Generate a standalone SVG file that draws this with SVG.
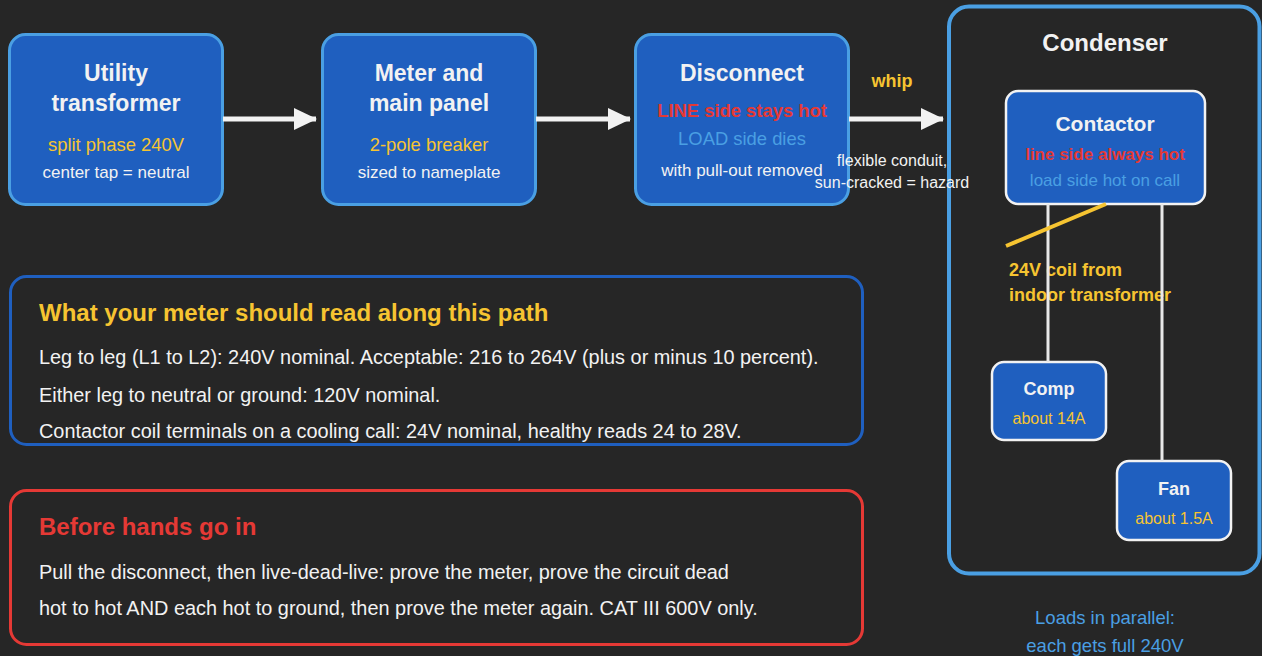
<svg xmlns="http://www.w3.org/2000/svg" width="1262" height="656" viewBox="0 0 1262 656">
<style>
text{font-family:"Liberation Sans",Arial,sans-serif;}
.node{fill:#1f5fbf;stroke:#4a9fe3;stroke-width:3;}
.inner{fill:#1f5fbf;stroke:#f2f2f2;stroke-width:2.5;}
.t{fill:#f2f2f2;font-weight:bold;font-size:23px;text-anchor:middle;}
.ts{fill:#f2f2f2;font-weight:bold;font-size:18px;text-anchor:middle;}
.y{fill:#f6c431;font-size:18.4px;text-anchor:middle;}
.w{fill:#f2f2f2;font-size:17px;text-anchor:middle;}
.r{fill:#e53935;font-weight:bold;font-size:18.4px;text-anchor:middle;}
.lb{fill:#4a9fe3;font-size:18.4px;text-anchor:middle;}
.body{fill:#f2f2f2;font-size:19.9px;}
.head{font-weight:bold;font-size:24px;}
.wire{stroke:#e8e8e8;stroke-width:3;fill:none;}
.arr{stroke:#f2f2f2;stroke-width:5;fill:none;marker-end:url(#ah);}
</style>
<defs>
<marker id="ah" markerUnits="userSpaceOnUse" markerWidth="24" markerHeight="24" refX="22" refY="12" orient="auto">
<path d="M0,1 L23,12 L0,23 Z" fill="#f2f2f2"/>
</marker>
</defs>
<rect x="0" y="0" width="1262" height="656" fill="#262626"/>

<g id="condenser">
<rect x="949" y="6.5" width="310.5" height="567" rx="20" fill="#262626" stroke="#4a9fe3" stroke-width="4"/>
<text x="1105" y="51" class="t" style="font-size:24px">Condenser</text>
</g>

<g id="utility">
<rect class="node" x="9.5" y="34.5" width="213" height="170" rx="16"/>
<text class="t" x="116" y="81">Utility</text>
<text class="t" x="116" y="111">transformer</text>
<text class="y" x="116" y="151">split phase 240V</text>
<text class="w" x="116" y="178">center tap = neutral</text>
</g>

<g id="meter">
<rect class="node" x="322.5" y="34.5" width="213" height="170" rx="16"/>
<text class="t" x="429" y="81">Meter and</text>
<text class="t" x="429" y="111">main panel</text>
<text class="y" x="429" y="151">2-pole breaker</text>
<text class="w" x="429" y="178">sized to nameplate</text>
</g>

<g id="disconnect">
<rect class="node" x="635.5" y="34.5" width="213" height="170" rx="16"/>
<text class="t" x="742" y="81">Disconnect</text>
<text class="r" x="742" y="117">LINE side stays hot</text>
<text class="lb" x="742" y="145">LOAD side dies</text>
<text class="w" x="742" y="176">with pull-out removed</text>
</g>

<g id="contactor">
<rect class="inner" x="1006" y="91" width="199" height="113" rx="12"/>
<text class="t" x="1105" y="131" style="font-size:21px">Contactor</text>
<text class="r" x="1105" y="160" style="font-size:17px">line side always hot</text>
<text class="lb" x="1105" y="186" style="font-size:17px">load side hot on call</text>
</g>

<g id="comp">
<rect class="inner" x="992" y="362" width="114" height="78" rx="12"/>
<text class="ts" x="1049" y="395">Comp</text>
<text class="y" x="1049" y="424" style="font-size:16px">about 14A</text>
</g>

<g id="fan">
<rect class="inner" x="1117" y="461" width="114" height="79" rx="12"/>
<text class="ts" x="1174" y="495">Fan</text>
<text class="y" x="1174" y="524" style="font-size:16px">about 1.5A</text>
</g>

<g id="labels">
<text x="892" y="87" style="fill:#f6c431;font-weight:bold;font-size:18px;text-anchor:middle">whip</text>
<text class="w" x="892" y="166" style="font-size:16px">flexible conduit,</text>
<text class="w" x="892" y="188" style="font-size:16px">sun-cracked = hazard</text>
<text x="1009" y="276" style="fill:#f6c431;font-weight:bold;font-size:18px">24V coil from</text>
<text x="1009" y="301" style="fill:#f6c431;font-weight:bold;font-size:18px">indoor transformer</text>
<text class="lb" x="1105" y="624" style="font-size:18.5px">Loads in parallel:</text>
<text class="lb" x="1105" y="652" style="font-size:18.5px">each gets full 240V</text>
</g>

<g id="connectors">
<line class="arr" x1="223" y1="119" x2="316" y2="119"/>
<line class="arr" x1="536" y1="119" x2="630" y2="119"/>
<line class="arr" x1="849" y1="119" x2="943" y2="119"/>
<line class="wire" x1="1048" y1="204" x2="1048" y2="362"/>
<line class="wire" x1="1162" y1="204" x2="1162" y2="461"/>
<line x1="1006" y1="246" x2="1106" y2="204" stroke="#f6c431" stroke-width="4"/>
</g>

<g id="meter-readings">
<rect x="10.5" y="276.5" width="852" height="168" rx="16" fill="#262626" stroke="#1f5fbf" stroke-width="3"/>
<text class="head" x="39" y="321" style="fill:#f6c431">What your meter should read along this path</text>
<text class="body" x="39" y="364">Leg to leg (L1 to L2): 240V nominal. Acceptable: 216 to 264V (plus or minus 10 percent).</text>
<text class="body" x="39" y="402">Either leg to neutral or ground: 120V nominal.</text>
<text class="body" x="39" y="438">Contactor coil terminals on a cooling call: 24V nominal, healthy reads 24 to 28V.</text>
</g>

<g id="safety">
<rect x="10.5" y="490.5" width="852" height="154" rx="16" fill="#262626" stroke="#e53935" stroke-width="3"/>
<text class="head" x="39" y="535" style="fill:#e53935">Before hands go in</text>
<text class="body" x="39" y="579">Pull the disconnect, then live-dead-live: prove the meter, prove the circuit dead</text>
<text class="body" x="39" y="615">hot to hot AND each hot to ground, then prove the meter again. CAT III 600V only.</text>
</g>
</svg>
